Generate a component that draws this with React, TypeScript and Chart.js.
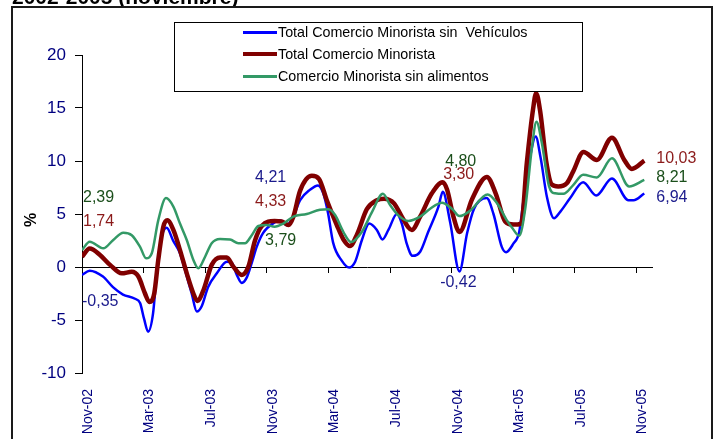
import React, { useEffect, useRef } from "react";
import { Chart, registerables } from "chart.js";

Chart.register(...registerables);

// ---- data (months counted from Nov-02 = 0; month m is centred at m + 0.5) ----
const tickLabels = ["Nov-02", "Mar-03", "Jul-03", "Nov-03", "Mar-04", "Jul-04", "Nov-04", "Mar-05", "Jul-05", "Nov-05"];
const seriesNames = [
  "Total Comercio Minorista sin  Vehículos",
  "Total Comercio Minorista",
  "Comercio Minorista sin alimentos",
];

const blueX = [0, 0.5, 1.36, 2.01, 2.66, 3.44, 3.77, 4.03, 4.29, 4.61, 4.85, 5.18, 5.5, 5.91, 6.36, 6.69, 7.12, 7.45, 7.77, 8.18, 8.75, 9.4, 9.72, 10.05, 10.37, 10.69, 11.02, 11.34, 11.75, 12.5, 12.86, 13.29, 13.7, 14.16, 14.81, 15.32, 15.65, 15.97, 16.3, 16.86, 17.34, 17.73, 18.16, 18.64, 19.14, 19.5, 19.89, 20.44, 20.76, 21.08, 21.46, 21.95, 22.47, 23.14, 23.42, 23.9, 24.5, 25.0, 25.45, 26.27, 26.71, 27.25, 27.53, 28.0, 28.38, 28.66, 29.09, 29.45, 29.77, 30.18, 30.64, 31.04, 31.69, 32.53, 33.38, 34.4, 35.47, 35.8, 36.5];
const blueY = [-0.75, -0.35, -0.9, -1.9, -2.6, -3.0, -3.4, -4.9, -6.1, -4.4, -0.6, 2.9, 3.7, 2.5, 1.3, -0.3, -2.5, -4.2, -3.7, -1.9, -0.6, 0.5, 0.4, -0.75, -1.5, -1.0, 0.4, 1.9, 3.2, 4.21, 4.4, 3.96, 4.7, 6.3, 7.3, 7.7, 7.0, 5.1, 2.3, 0.6, -0.05, 0.5, 2.5, 4.1, 3.5, 2.6, 3.5, 5.0, 4.1, 2.2, 1.05, 1.44, 3.3, 5.7, 7.1, 4.2, -0.42, 3.2, 5.5, 6.5, 5.0, 1.9, 1.4, 2.2, 3.3, 6.3, 10.4, 12.3, 10.3, 6.6, 4.6, 5.2, 6.5, 8.0, 6.75, 8.35, 6.3, 6.3, 6.94];

const redX = [0, 0.5, 1.17, 1.82, 2.58, 3.23, 3.66, 4.09, 4.37, 4.69, 4.95, 5.28, 5.54, 5.93, 6.36, 6.8, 7.23, 7.49, 7.88, 8.42, 8.96, 9.4, 9.82, 10.37, 10.8, 11.23, 11.67, 12.5, 12.97, 13.4, 13.72, 14.16, 14.92, 15.39, 15.89, 16.54, 16.97, 17.4, 17.86, 18.49, 19.14, 19.61, 20.26, 20.76, 21.41, 21.95, 22.71, 23.41, 23.7, 24.11, 24.5, 25.32, 26.28, 26.85, 27.47, 28.0, 28.51, 28.88, 29.29, 29.48, 29.74, 30.13, 30.49, 30.91, 31.47, 31.88, 32.55, 33.42, 34.4, 35.2, 35.69, 36.5];
const redY = [0.97, 1.74, 1.13, 0.2, -0.6, -0.45, -0.9, -2.5, -3.3, -2.5, 0.66, 3.8, 4.4, 3.5, 1.6, -0.6, -2.5, -3.2, -2.2, 0.2, 0.9, 0.9, 0.03, -0.75, 0.03, 2.5, 3.87, 4.33, 4.3, 3.96, 4.75, 7.2, 8.6, 8.3, 6.3, 3.96, 2.6, 1.98, 3.1, 5.45, 6.3, 6.45, 6.0, 4.75, 3.5, 4.75, 6.95, 8.0, 7.3, 4.75, 3.3, 6.4, 8.5, 6.95, 4.3, 4.0, 4.1, 9.9, 15.0, 16.4, 14.7, 10.0, 7.8, 7.6, 7.9, 9.0, 10.85, 10.1, 12.2, 10.1, 9.25, 10.03];

const greenX = [0, 0.5, 1.38, 2.03, 2.68, 3.23, 3.77, 4.16, 4.53, 4.95, 5.45, 5.93, 6.36, 6.8, 7.23, 7.55, 7.99, 8.42, 8.96, 9.61, 10.15, 10.58, 11.02, 11.45, 11.99, 12.5, 13.07, 13.72, 14.59, 15.45, 15.99, 16.43, 16.97, 17.47, 18.16, 18.83, 19.53, 20.0, 20.52, 21.19, 21.95, 22.6, 23.36, 24.01, 24.5, 25.19, 26.33, 26.95, 27.58, 27.92, 28.38, 28.77, 29.2, 29.5, 29.85, 30.32, 30.71, 31.25, 31.9, 32.53, 33.42, 34.4, 35.52, 36.5];
const greenY = [1.6, 2.39, 1.76, 2.55, 3.24, 3.0, 1.9, 0.82, 1.3, 4.4, 6.5, 5.7, 4.1, 2.55, 0.66, -0.12, 0.97, 2.24, 2.64, 2.6, 2.24, 2.24, 3.0, 3.87, 3.96, 3.79, 4.1, 4.75, 5.0, 5.4, 5.44, 4.9, 3.3, 2.35, 3.3, 5.2, 6.9, 5.85, 4.9, 4.35, 4.75, 5.5, 6.07, 5.5, 4.8, 5.3, 6.85, 6.0, 4.4, 3.7, 2.95, 5.5, 11.2, 13.7, 11.7, 7.6, 6.95, 6.9, 7.75, 8.7, 8.45, 10.25, 7.6, 8.21];

// labelled values (Nov-02, Nov-03, Nov-04, Nov-05)
const labelMonths = [0.5, 12.5, 24.5, 36.5];
const labelBlue = [-0.35, 4.21, -0.42, 6.94];
const labelRed = [1.74, 4.33, 3.3, 10.03];
const labelGreen = [2.39, 3.79, 4.8, 8.21];

// ---- styles ----
const FONT = '"Liberation Sans", Arial, Helvetica, sans-serif';
const NAVY = "#000080";
const lineColors = ["#0000ff", "#800000", "#339966"];
const lineWidths = [2.5, 4.5, 2.5];
const labelColors = ["#1a1a8c", "#8b1a1a", "#1b4f1b"];
const labelOffsets = [
  [[-7.7, 31.3], [-19.5, -44.4], [-19.3, 11.5], [12, 4.6]],
  [[-6.7, -26.9], [-19.5, -19.1], [-16.3, -57], [12, -1.7]],
  [[-6.7, -43.7], [-9.5, 14.2], [-14.3, -55], [12, -2]],
];

const zip = (xs: number[], ys: number[]) =>
  xs.slice(0, Math.min(xs.length, ys.length)).map((x, i) => ({ x, y: ys[i] }));

const valueLabelsPlugin = {
  id: "valueLabels",
  afterDatasetsDraw(chart: any) {
    const { ctx, scales } = chart;
    const xs = scales.x;
    const ys = scales.y;
    ctx.save();
    ctx.font = `16px ${FONT}`;
    ctx.textBaseline = "middle";
    ctx.textAlign = "left";
    [labelBlue, labelRed, labelGreen].forEach((vals, s) => {
      ctx.fillStyle = labelColors[s];
      vals.forEach((v, i) => {
        const px = xs.getPixelForValue(labelMonths[i]);
        const py = ys.getPixelForValue(v);
        const [dx, dy] = labelOffsets[s][i];
        ctx.fillText(v.toFixed(2).replace(".", ","), px + dx, py + dy);
      });
    });
    // y axis title
    ctx.font = `bold 16px ${FONT}`;
    ctx.fillStyle = "#000";
    ctx.textAlign = "center";
    ctx.translate(32, 220);
    ctx.rotate(-Math.PI / 2);
    ctx.fillText("%", 0, 0);
    ctx.restore();
  },
};

export default function App() {
  const ref = useRef<HTMLCanvasElement>(null);

  useEffect(() => {
    if (!ref.current) return;
    Chart.defaults.font.family = FONT;
    const series = [zip(blueX, blueY), zip(redX, redY), zip(greenX, greenY)];
    const chart = new Chart(ref.current, {
      type: "line",
      data: {
        datasets: series.map((pts, i) => ({
          label: seriesNames[i],
          data: pts,
          borderColor: lineColors[i],
          backgroundColor: lineColors[i],
          borderWidth: lineWidths[i],
          pointRadius: 0,
          cubicInterpolationMode: "monotone" as const,
          fill: false,
          order: 3 - i,
          xAxisID: "x",
          yAxisID: "y",
        })),
      },
      options: {
        animation: false,
        responsive: false,
        devicePixelRatio: 1,
        layout: { padding: { top: 55, right: 68, bottom: 6, left: 0 } },
        plugins: { legend: { display: false }, tooltip: { enabled: false }, title: { display: false } },
        scales: {
          x: {
            type: "linear",
            position: { y: 0 } as any,
            min: 0,
            max: 37,
            ticks: { display: false, stepSize: 4, includeBounds: false },
            grid: { drawOnChartArea: false, drawTicks: true, tickLength: 5, color: "#000", lineWidth: 1 },
            border: { display: true, color: "#000", width: 1 },
          },
          x2: {
            type: "linear",
            position: "bottom",
            min: 0,
            max: 37,
            grid: { display: false },
            border: { display: false },
            afterFit: (s: any) => { s.height = 60; },
            ticks: {
              stepSize: 4,
              includeBounds: false,
              autoSkip: false,
              maxRotation: 90,
              minRotation: 90,
              labelOffset: 6,
              padding: 8,
              color: NAVY,
              font: { size: 14, family: FONT },
              callback: (v: any) => tickLabels[Math.round(Number(v) / 4)] ?? "",
            },
          },
          y: {
            type: "linear",
            position: "left",
            min: -10,
            max: 20,
            afterFit: (s: any) => { s.width = 82; },
            ticks: { stepSize: 5, color: NAVY, padding: 9, font: { size: 17, family: FONT } },
            grid: { drawOnChartArea: false, drawTicks: true, tickLength: 7, color: "#000" },
            border: { display: true, color: "#000", width: 1 },
          },
        },
      },
      plugins: [valueLabelsPlugin],
    });
    return () => chart.destroy();
  }, []);

  const rowTops = [32, 54, 76];
  return (
    <div
      style={{
        position: "fixed",
        left: 0,
        top: 0,
        width: 720,
        height: 439,
        overflow: "hidden",
        background: "#fff",
        fontFamily: FONT,
      }}
    >
      <canvas ref={ref} width={720} height={439} style={{ position: "absolute", left: 0, top: 0, width: 720, height: 439 }} />
      <div
        style={{
          position: "absolute",
          left: 12,
          top: -14,
          fontSize: 21,
          lineHeight: "21px",
          fontWeight: "bold",
          whiteSpace: "nowrap",
          color: "#000",
        }}
      >
        2002-2005 (noviembre)
      </div>
      <div
        style={{
          position: "absolute",
          left: 11,
          top: 6,
          width: 702,
          height: 520,
          border: "2px solid #1a1a1a",
          boxSizing: "border-box",
          pointerEvents: "none",
        }}
      />
      <div
        style={{
          position: "absolute",
          left: 174,
          top: 22,
          width: 409,
          height: 70,
          border: "1px solid #000",
          boxSizing: "border-box",
          background: "#fff",
        }}
      >
        {seriesNames.map((name, i) => (
          <div
            key={name}
            style={{
              position: "absolute",
              left: 68,
              top: rowTops[i] - 22 - 1 - 9,
              height: 18,
              display: "flex",
              alignItems: "center",
              whiteSpace: "pre",
            }}
          >
            <div style={{ width: 34, height: i === 1 ? 4 : 3, background: lineColors[i] }} />
            <span style={{ fontSize: 14.3, color: "#000", marginLeft: 1 }}>{name}</span>
          </div>
        ))}
      </div>
    </div>
  );
}
